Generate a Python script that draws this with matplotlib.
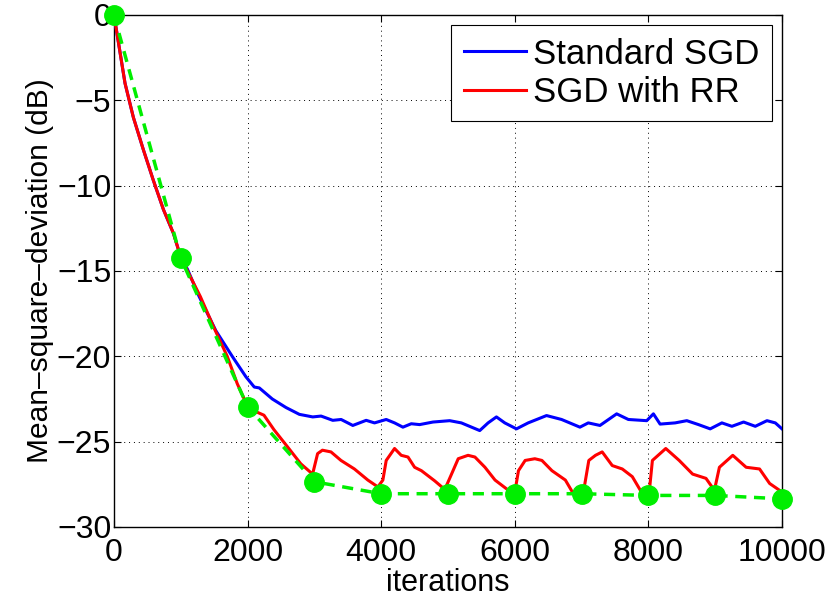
import matplotlib
matplotlib.use("Agg")
import matplotlib.pyplot as plt
from matplotlib import font_manager

names = {f.name for f in font_manager.fontManager.ttflist}
fam = [n for n in ["Liberation Sans", "DejaVu Sans"] if n in names]
plt.rcParams['font.family'] = fam

# ---- data ----
blue_x = [0, 165, 290, 440, 590, 740, 890, 1000, 1100, 1275, 1525, 1770, 1975, 2100, 2175, 2370,
          2575, 2775, 2975, 3100, 3275, 3400, 3575, 3775, 3900, 4075, 4200, 4325, 4450, 4575,
          4775, 5025, 5200, 5475, 5600, 5725, 5850, 6025, 6200, 6475, 6700, 6975, 7100, 7275,
          7525, 7700, 7975, 8075, 8175, 8400, 8575, 8750, 8925, 9100, 9250, 9425, 9600, 9775,
          9900, 10000]
blue_y = [0, -4.0, -6.0, -7.9, -9.7, -11.4, -12.8, -14.2, -14.9, -16.5, -18.5, -20.0, -21.2, -21.8,
          -21.85, -22.5, -23.0, -23.4, -23.55, -23.5, -23.75, -23.7, -24.05, -23.75, -23.9, -23.7,
          -23.9, -24.15, -23.95, -24.0, -23.85, -23.77, -23.9, -24.35, -23.9, -23.55, -23.9, -24.25,
          -23.9, -23.47, -23.7, -24.15, -23.9, -24.05, -23.37, -23.7, -23.77, -23.37, -23.97, -23.9,
          -23.77, -24.0, -24.25, -23.9, -24.1, -23.85, -24.1, -23.77, -23.9, -24.25]

red_x = [0, 165, 290, 440, 590, 740, 890, 1000, 1093, 1293, 1494, 1695, 1845, 1995, 2100, 2245,
         2395, 2597, 2797, 2973, 3048, 3120, 3248, 3398, 3599, 3800, 3950, 4025, 4075, 4200, 4300,
         4401, 4500, 4602, 4802, 4952, 5053, 5153, 5300, 5403, 5553, 5704, 5905, 6005, 6055, 6155,
         6300, 6406, 6556, 6757, 6907, 7030, 7108, 7208, 7308, 7459, 7609, 7759, 7910, 8010, 8060,
         8260, 8461, 8662, 8862, 8988, 9063, 9263, 9463, 9664, 9815, 10000]
red_y = [0, -4.0, -6.0, -7.9, -9.7, -11.4, -12.8, -14.2, -14.95, -16.5, -18.3, -20.0, -21.6, -22.9,
         -23.2, -23.45, -24.3, -25.3, -26.3, -26.9, -25.7, -25.5, -25.6, -26.1, -26.6, -27.25,
         -27.65, -27.25, -26.1, -25.4, -25.8, -25.9, -26.5, -26.7, -27.3, -27.8, -26.9, -26.0,
         -25.8, -25.9, -26.5, -27.25, -27.85, -27.85, -26.7, -26.1, -26.0, -26.1, -26.7, -27.25,
         -28.25, -27.9, -26.1, -25.8, -25.6, -26.4, -26.6, -27.05, -28.05, -28.05, -26.1, -25.4,
         -26.1, -26.9, -27.15, -27.85, -26.5, -25.8, -26.5, -26.6, -27.45, -27.95]

epoch_x = [0, 1000, 2000, 3000, 4000, 5000, 6000, 7000, 8000, 9000, 10000]
epoch_y = [0, -14.25, -22.95, -27.35, -28.05, -28.05, -28.05, -28.05, -28.15, -28.15, -28.35]

xticks = [0, 2000, 4000, 6000, 8000, 10000]
yticks = [0, -5, -10, -15, -20, -25, -30]

fig = plt.figure(figsize=(8.3, 6.02), dpi=100)
ax = fig.add_axes([114/830, 1-527/602, (782-114)/830, (527-15)/602])

ax.plot(blue_x, blue_y, color='#0000ff', lw=2.2, label='Standard SGD', zorder=3)
ax.plot(red_x, red_y, color='#ff0000', lw=2.2, label='SGD with RR', zorder=4)
ax.plot(epoch_x, epoch_y, color='#00ee00', lw=2.5, ls=(0, (3.2, 2.2)), marker='o',
        markersize=14, markerfacecolor='#00ee00', markeredgecolor='#00ee00',
        zorder=5, clip_on=False)

ax.set_xlim(0, 10000)
ax.set_ylim(-30, 0)
ax.set_xticks(xticks)
ax.set_yticks(yticks)
ax.set_yticklabels(['\u2212' + str(-t) if t < 0 else str(t) for t in yticks])
ax.tick_params(direction='in', top=True, right=True, length=5, width=0.8,
               labelsize=23)
ax.tick_params(axis='y', pad=2)
ax.tick_params(axis='x', pad=8)
ax.grid(True, color='black', ls=(0, (1, 4)), lw=0.7)
for s in ax.spines.values():
    s.set_linewidth(1.0)

ax.set_xlabel('iterations', fontsize=22, labelpad=0)
ax.set_ylabel('Mean\u2013square\u2013deviation (dB)', fontsize=21.5, labelpad=2)

leg = ax.legend(loc='upper right', fontsize=25, frameon=True, fancybox=False,
                edgecolor='black', framealpha=1, handlelength=1.8, handletextpad=0.2,
                borderpad=0.35, labelspacing=0.15, borderaxespad=0.3)
leg.get_frame().set_linewidth(0.8)

fig.savefig('out.png', dpi=100)
